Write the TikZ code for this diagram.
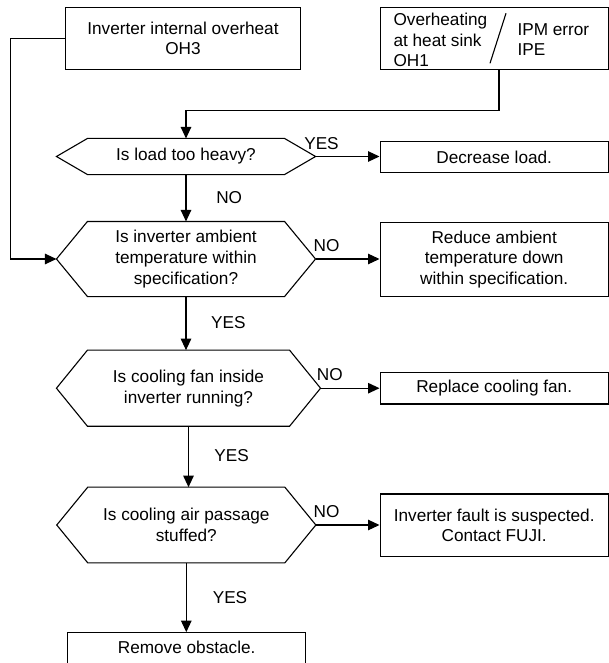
\documentclass[tikz,border=0pt]{standalone}
\usepackage{fontspec}
\setmainfont{Liberation Sans}
\usetikzlibrary{arrows.meta}

\begin{document}
\begin{tikzpicture}[x=1pt,y=-1pt,line width=1.1pt,
  font=\fontsize{17.2}{20.7}\selectfont,
  box/.style={rectangle,draw,align=center,inner sep=0pt,minimum width=228.3pt},
  dec/.style={rectangle,align=center,inner sep=0pt,minimum width=196pt,minimum height=74pt},
  lbl/.style={inner sep=0pt},
  arr/.style={-{Triangle[length=11.5pt,width=10.5pt]}}]
 \useasboundingbox (0,0) rectangle (609,663);
 % alarms
 \node[box,minimum width=235.5pt,minimum height=62pt] (oh3) at (183,38.3) {Inverter internal overheat\\OH3};
 \node[box,minimum height=62pt] (oh1) at (494.2,38.3) {};
 \node[lbl,anchor=west,align=left] (oh1t) at (393,40) {Overheating\\at heat sink\\OH1};
 \node[lbl,anchor=west,align=left] (ipe) at (517,39.7) {IPM error\\IPE};
 \draw (506,13.3) -- (490,63.3);
 % checks
 \node[dec,minimum height=35pt] (q1) at (186,156.5) {Is load too heavy?};
 \node[dec] (q2) at (186,259) {Is inverter ambient\\temperature within\\specification?};
 \node[dec,minimum width=201pt,minimum height=75pt] (q3) at (188.5,388.2) {Is cooling fan inside\\inverter running?};
 \node[dec,minimum height=74.6pt] (q4) at (186.3,525) {Is cooling air passage\\stuffed?};
 \foreach \q in {q1,q2,q3,q4}
   \draw (\q.north west) -- (\q.north east) -- ([xshift=31pt]\q.east) coordinate (\q-r)
     -- (\q.south east) -- (\q.south west) -- ([xshift=-31pt]\q.west) coordinate (\q-l) -- cycle;
 % remedies
 \node[box,minimum height=31pt] (a1) at (494.2,157.2) {Decrease load.};
 \node[box,minimum height=74.4pt] (a2) at (494.2,259.5) {Reduce ambient\\temperature down\\within specification.};
 \node[box,minimum height=31.3pt] (a3) at (494.2,388.3) {Replace cooling fan.};
 \node[box,minimum height=62.7pt] (a4) at (494.2,525.3) {Inverter fault is suspected.\\Contact FUJI.};
 \node[lbl,minimum width=236.7pt,minimum height=30pt] (rm) at (186.7,647.7) {Remove obstacle.};
 \draw ([yshift=-12pt]rm.south west) -- (rm.north west) -- (rm.north east) -- ([yshift=-12pt]rm.south east);
 % flow
 \draw[arr] (oh3.west) -- ++(-54,0) |- (q2-l);
 \draw[arr] ([xshift=4.8pt]oh1.south) -- ++(0,40.7) -| (q1.north);
 \draw[arr] (q1.south) -- (q2.north);
 \draw[arr] (q2.south) -- (q2.south |- q3.north);
 \draw[arr] (q3.south) -- (q3.south |- q4.north);
 \draw[arr] (q4.south) -- (q4.south |- rm.north);
 \foreach \q/\a in {q1/a1,q2/a2,q3/a3,q4/a4}
   \draw[arr] (\q-r) -- (\q-r -| \a.west);
 \foreach \n/\x/\y/\t in {y1/321.5/143.3/YES,n1/229.2/198/NO,n2/326.5/246/NO,y2/228.3/322.7/YES,
     n3/329.8/375/NO,y3/231.7/456/YES,n4/326.5/511.7/NO,y4/230/597.3/YES}
   \node[lbl] (\n) at (\x,\y) {\t};
\end{tikzpicture}
\end{document}
